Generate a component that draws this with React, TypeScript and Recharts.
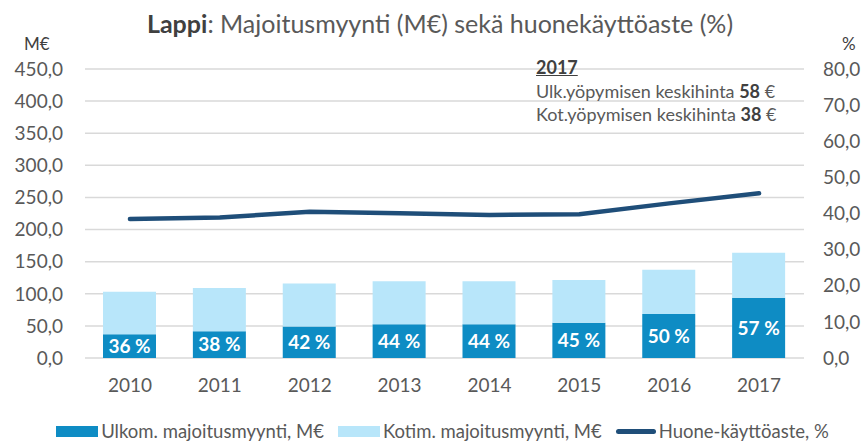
import { ComposedChart, Bar, Line, XAxis, YAxis, CartesianGrid, Legend, LabelList } from "recharts";

const years: string[] = ["2010", "2011", "2012", "2013", "2014", "2015", "2016", "2017"];
const ulkom: number[] = [37, 41.5, 49, 52.5, 52.5, 55, 68.5, 94];
const kotim: number[] = [66, 67.5, 67, 67, 67, 66.5, 69, 70];
const kaytto: number[] = [38.5, 38.9, 40.5, 40.1, 39.6, 39.8, 42.8, 45.6];
const shareLabels: string[] = ["36 %", "38 %", "42 %", "44 %", "44 %", "45 %", "50 %", "57 %"];
const leftTicks: number[] = [0, 50, 100, 150, 200, 250, 300, 350, 400, 450];
const rightTicks: number[] = [0, 10, 20, 30, 40, 50, 60, 70, 80];

const data = years.map((year, i) => ({
    year,
    ulkom: ulkom[i],
    kotim: kotim[i],
    kaytto: kaytto[i],
    label: shareLabels[i],
}));

const DARK = "#0E8CC4";
const LIGHT = "#B8E6FA";
const NAVY = "#1F4E79";
const GREY = "#595959";
const FONT = "Lato, 'Open Sans', sans-serif";

const fmt = (v: number) => v.toFixed(1).replace(".", ",");

function ChartLegend() {
    const item = (swatch: JSX.Element, text: string) => (
        <div style={{ display: "flex", alignItems: "center", gap: 3 }}>
            {swatch}
            <span>{text}</span>
        </div>
    );
    return (
        <div
            style={{
                height: 45,
                display: "flex",
                justifyContent: "center",
                alignItems: "flex-end",
                gap: 14,
                fontFamily: FONT,
                fontSize: 18.5,
                color: GREY,
                paddingBottom: 1,
                paddingLeft: 18,
                boxSizing: "border-box",
            }}
        >
            {item(<div style={{ width: 42, height: 11, background: DARK }} />, "Ulkom. majoitusmyynti, M€")}
            {item(<div style={{ width: 42, height: 11, background: LIGHT }} />, "Kotim. majoitusmyynti, M€")}
            {item(<div style={{ width: 40, height: 5, borderRadius: 3, background: NAVY }} />, "Huone-käyttöaste, %")}
        </div>
    );
}

export default function App() {
    return (
        <div style={{ position: "absolute", left: 0, top: 0, width: 867, height: 443, background: "#fff", fontFamily: FONT }}>
            <ComposedChart width={867} height={443} data={data} margin={{ top: 69, right: 0, bottom: 0, left: 0 }}>
                <CartesianGrid yAxisId="left" vertical={false} stroke="#D9D9D9" strokeWidth={1.5} />
                <XAxis
                    dataKey="year"
                    axisLine={false}
                    tickLine={false}
                    tickSize={0}
                    tickMargin={21}
                    height={40}
                    tick={{ fontSize: 19, fill: GREY, fontFamily: FONT }}
                />
                <YAxis
                    yAxisId="left"
                    domain={[0, 450]}
                    ticks={leftTicks}
                    tickFormatter={fmt}
                    axisLine={false}
                    tickLine={false}
                    tickSize={0}
                    tickMargin={22}
                    width={85}
                    tick={{ fontSize: 19, fill: GREY, fontFamily: FONT }}
                />
                <YAxis
                    yAxisId="right"
                    orientation="right"
                    domain={[0, 80]}
                    ticks={rightTicks}
                    tickFormatter={fmt}
                    axisLine={false}
                    tickLine={false}
                    tickSize={0}
                    tickMargin={19}
                    width={63}
                    tick={{ fontSize: 19, fill: GREY, fontFamily: FONT, textAnchor: "start" }}
                />
                <Legend verticalAlign="bottom" content={() => <ChartLegend />} />
                <Bar yAxisId="left" dataKey="ulkom" stackId="a" fill={DARK} barSize={53} isAnimationActive={false}>
                    <LabelList dataKey="label" position="center" fill="#fff" fontSize={19} fontWeight="bold" fontFamily={FONT} />
                </Bar>
                <Bar yAxisId="left" dataKey="kotim" stackId="a" fill={LIGHT} barSize={53} isAnimationActive={false} />
                <Line
                    yAxisId="right"
                    dataKey="kaytto"
                    type="linear"
                    stroke={NAVY}
                    strokeWidth={4.5}
                    strokeLinecap="round"
                    dot={false}
                    activeDot={false}
                    isAnimationActive={false}
                />
            </ComposedChart>

            <div style={{ position: "absolute", left: 0, width: 867, top: 8, textAlign: "center", fontSize: 25, color: GREY, paddingLeft: 13, boxSizing: "border-box" }}>
                <b style={{ color: "#404040" }}>Lappi</b>: Majoitusmyynti (M€) sekä huonekäyttöaste (%)
            </div>
            <div style={{ position: "absolute", left: 24, top: 33, fontSize: 17, color: "#404040" }}>M€</div>
            <div style={{ position: "absolute", left: 842, top: 33, fontSize: 17, color: "#404040" }}>%</div>

            <div style={{ position: "absolute", left: 536, top: 56, fontSize: 18, color: GREY, lineHeight: "23.5px" }}>
                <div style={{ fontWeight: "bold", textDecoration: "underline", color: "#404040" }}>2017</div>
                <div>
                    Ulk.yöpymisen keskihinta <b style={{ color: "#404040" }}>58</b> €
                </div>
                <div>
                    Kot.yöpymisen keskihinta <b style={{ color: "#404040" }}>38</b> €
                </div>
            </div>
        </div>
    );
}
